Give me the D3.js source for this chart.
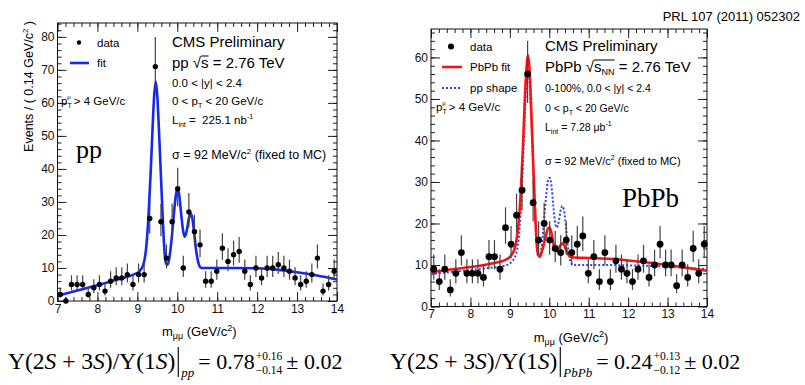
<!DOCTYPE html>
<html>
<head>
<meta charset="utf-8">
<script src="https://cdn.jsdelivr.net/npm/d3@7/dist/d3.min.js"></script>
<style>
  body { margin: 0; background: #fff; }
  svg { display: block; font-family: "Liberation Sans", Arial, sans-serif; }
  text { white-space: pre; }
</style>
</head>
<body>
<svg id="chart" width="805" height="385"></svg>
<script>
// binning of both histograms: 7 - 14 GeV/c^2, 0.14 GeV/c^2 per bin
const massMin = 7, massMax = 14, binWidth = 0.14;
const binCenters = d3.range(50).map(i => massMin + binWidth * (i + 0.5));

// events per bin
const ppCounts = [2, 0, 5, 5, 5, 2, 4, 5, 3, 6, 7, 7, 8, 5, 8, 8, 25, 71, 24, 13,
  24, 34, 10, 27, 21, 17, 6, 6, 9, 16, 12, 14, 15, 9, 5, 10, 7, 10, 10, 11,
  10, 9, 7, 5, 6, 8, 13, 3, 5, 9];
const pbpbCounts = [9, 6, 9, 4, 8, 13, 8, 8, 8, 7, 12, 12, 9, 19, 15, 22, 28, 56, 25, 16,
  20, 16, 14, 13, 16, 13, 15, 17, 8, 12, 6, 13, 6, 11, 9, 8, 6, 9, 11, 7,
  10, 15, 10, 10, 5, 10, 7, 14, 8, 15];

// fitted curves, [mass, events]
const ppFit = [[7.0, 1.6], [7.5, 3.2], [8.0, 4.8], [8.5, 6.5], [8.9, 8.0], [9.05, 9.0],
  [9.15, 11], [9.22, 16], [9.28, 26], [9.33, 38], [9.38, 52], [9.42, 62], [9.46, 66.5],
  [9.50, 62], [9.54, 52], [9.59, 38], [9.64, 24], [9.68, 15], [9.72, 11.3], [9.76, 11],
  [9.80, 13], [9.86, 19], [9.92, 27], [9.97, 32.5], [10.01, 34], [10.05, 32], [10.10, 26],
  [10.15, 21], [10.19, 19.5], [10.24, 21.5], [10.29, 25], [10.33, 26.5], [10.37, 25.5],
  [10.42, 21], [10.47, 15.5], [10.52, 12], [10.57, 10.3], [10.62, 10], [11.0, 10],
  [11.5, 10], [12.0, 9.9], [12.5, 9.5], [13.0, 8.7], [13.5, 7.7], [14.0, 6.5]];
const pbpbFit = [[7.0, 8.2], [7.5, 8.9], [8.0, 9.5], [8.5, 10.3], [8.9, 11.3], [9.05, 12.5],
  [9.15, 15], [9.22, 20], [9.28, 28], [9.33, 38], [9.38, 50], [9.42, 57], [9.46, 60.5],
  [9.50, 57], [9.54, 48], [9.59, 35], [9.64, 23], [9.68, 15.5], [9.72, 12.5], [9.76, 12],
  [9.82, 13.5], [9.90, 16.5], [9.97, 18.8], [10.01, 19], [10.06, 17.5], [10.12, 14.5],
  [10.18, 13.3], [10.24, 14], [10.30, 15], [10.35, 15.2], [10.41, 14], [10.48, 12.5],
  [10.55, 11.9], [10.62, 11.8], [11.0, 11.7], [11.5, 11.5], [12.0, 11.1], [12.5, 10.6],
  [13.0, 10.0], [13.5, 9.3], [14.0, 8.6]];
const ppShape = [[7.0, 7.8], [7.5, 8.3], [8.0, 8.8], [8.5, 9.3], [8.9, 9.9], [9.05, 10.8],
  [9.15, 12.5], [9.22, 16], [9.28, 24], [9.33, 34], [9.38, 46], [9.42, 54], [9.46, 57],
  [9.50, 54], [9.54, 46], [9.59, 34], [9.64, 22], [9.68, 14.5], [9.72, 12], [9.76, 12],
  [9.80, 14], [9.86, 20], [9.92, 26.5], [9.97, 30.5], [10.01, 31], [10.05, 29.5],
  [10.10, 24.5], [10.15, 20], [10.19, 19], [10.24, 20.5], [10.29, 23.3], [10.33, 24.2],
  [10.37, 23.3], [10.42, 19.5], [10.47, 14.5], [10.52, 11.5], [10.57, 10.2], [10.62, 10],
  [11.0, 10], [11.5, 10], [12.0, 9.9], [12.5, 9.8], [13.0, 9.6], [13.5, 9.3], [14.0, 9.0]];

const xTicks = [7, 8, 9, 10, 11, 12, 13, 14];
const ppYTicks = [0, 10, 20, 30, 40, 50, 60, 70, 80];
const pbpbYTicks = [0, 10, 20, 30, 40, 50, 60];

const svg = d3.select('#chart');

svg.append('text')
  .attr('x', 800).attr('y', 21)
  .attr('text-anchor', 'end')
  .style('font-size', '13px')
  .text('PRL 107 (2011) 052302');

svg.append('clipPath').attr('id', 'titleClip')
  .append('rect').attr('x', 399).attr('y', 0).attr('width', 400).attr('height', 385);

function drawPanel(p) {
  const x = d3.scaleLinear().domain([massMin, massMax]).range([p.left, p.right]);
  const y = d3.scaleLinear().domain([0, p.yMax]).range([p.bottom, p.top]);
  const g = svg.append('g');

  // ticks inside the frame, ROOT style
  const minorX = d3.range(massMin, massMax + 0.001, 0.2);
  const minorY = d3.range(0, p.yMax, 2);
  const addAxis = (axis, tr, labels) => {
    const a = g.append('g').attr('transform', tr).call(axis);
    a.select('.domain').remove();
    a.selectAll('line').attr('stroke', '#222');
    if (!labels) a.selectAll('text').remove();
    return a;
  };
  const bx = addAxis(d3.axisBottom(x).tickValues(xTicks).tickSize(-9).tickPadding(3).tickFormat(d3.format('d')),
    `translate(0,${p.bottom})`, true);
  bx.selectAll('text').style('font-size', '12px').attr('fill', '#111');
  addAxis(d3.axisBottom(x).tickValues(minorX).tickSize(-4), `translate(0,${p.bottom})`);
  addAxis(d3.axisTop(x).tickValues(xTicks).tickSize(-9), `translate(0,${p.top})`);
  addAxis(d3.axisTop(x).tickValues(minorX).tickSize(-4), `translate(0,${p.top})`);
  const ly = addAxis(d3.axisLeft(y).tickValues(p.yTicks).tickSize(-9).tickPadding(3),
    `translate(${p.left},0)`, true);
  ly.selectAll('text').style('font-size', '12px').attr('fill', '#111');
  addAxis(d3.axisLeft(y).tickValues(minorY).tickSize(-4), `translate(${p.left},0)`);
  addAxis(d3.axisRight(y).tickValues(p.yTicks).tickSize(-9), `translate(${p.right},0)`);
  addAxis(d3.axisRight(y).tickValues(minorY).tickSize(-4), `translate(${p.right},0)`);

  g.append('rect')
    .attr('x', p.left).attr('y', p.top)
    .attr('width', p.right - p.left).attr('height', p.bottom - p.top)
    .attr('fill', 'none').attr('stroke', '#111').attr('stroke-width', 1);

  // axis titles
  const yt = g.append('text')
    .attr('transform', `translate(${p.yTitleX},${p.top - 2}) rotate(-90)`)
    .attr('text-anchor', 'end')
    .style('font-size', '12.5px');
  yt.append('tspan').text('Events / ( 0.14 GeV/c');
  yt.append('tspan').attr('dy', -5).style('font-size', '8px').text('2');
  yt.append('tspan').attr('dy', 5).text(' )');
  if (p.clipTitle) yt.attr('clip-path', 'url(#titleClip)');

  const xt = g.append('text')
    .attr('x', (p.left + p.right) / 2 + 2).attr('y', p.bottom + 35)
    .attr('text-anchor', 'middle')
    .style('font-size', '13px');
  xt.append('tspan').text('m');
  xt.append('tspan').attr('dy', 3).style('font-size', '9px').text('μμ');
  xt.append('tspan').attr('dy', -3).text(' (GeV/c');
  xt.append('tspan').attr('dy', -5).style('font-size', '9px').text('2');
  xt.append('tspan').attr('dy', 5).text(')');

  // curves
  const line = d3.line().x(d => x(d[0])).y(d => y(d[1])).curve(d3.curveMonotoneX);
  p.curves.forEach(c => {
    g.append('path').datum(c.data)
      .attr('d', line)
      .attr('fill', 'none')
      .attr('stroke', c.color)
      .attr('stroke-width', c.width)
      .attr('stroke-dasharray', c.dash || null);
  });

  // data with poisson-like error bars
  const pts = binCenters.map((m, i) => ({ m, n: p.counts[i] }));
  g.selectAll('.err').data(pts).join('line')
    .attr('x1', d => x(d.m)).attr('x2', d => x(d.m))
    .attr('y1', d => y(Math.max(0, d.n + 0.5 - Math.sqrt(d.n + 0.25))))
    .attr('y2', d => y(d.n + 0.5 + Math.sqrt(d.n + 0.25) + (d.n === 0 ? 0.15 : 0)))
    .attr('stroke', '#444').attr('stroke-width', 1.2);
  g.selectAll('.pt').data(pts).join('circle')
    .attr('cx', d => x(d.m)).attr('cy', d => y(d.n))
    .attr('r', p.markerR).attr('fill', '#000');

  return { x, y, g };
}

drawPanel({
  left: 57.5, right: 337, top: 23, bottom: 301, yMax: 84.2, yTicks: ppYTicks,
  counts: ppCounts, markerR: 2.7, yTitleX: 33,
  curves: [{ data: ppFit, color: '#1428f0', width: 2.6 }]
});
drawPanel({
  left: 431, right: 707, top: 29, bottom: 306.5, yMax: 66.85, yTicks: pbpbYTicks,
  counts: pbpbCounts, markerR: 3.4, yTitleX: 410, clipTitle: true,
  curves: [
    { data: ppShape, color: '#3344ee', width: 2, dash: '2,2' },
    { data: pbpbFit, color: '#ff1010', width: 2.6 }
  ]
});

// ---- labels inside the frames ----
function label(x, y, size, parts, anchor) {
  const t = svg.append('text').attr('x', x).attr('y', y)
    .attr('text-anchor', anchor || 'start').style('font-size', size + 'px');
  parts.forEach(pt => {
    const s = t.append('tspan').text(pt.t);
    if (pt.dy) s.attr('dy', pt.dy);
    if (pt.dx) s.attr('dx', pt.dx);
    if (pt.fs) s.style('font-size', pt.fs + 'px');
    if (pt.font) s.style('font-family', pt.font);
  });
  return t;
}
function overline(t, from, to, off) {
  const n = t.node();
  const a = n.getStartPositionOfChar(from), b = n.getEndPositionOfChar(to);
  svg.append('line').attr('x1', a.x).attr('x2', b.x)
    .attr('y1', +t.attr('y') - off).attr('y2', +t.attr('y') - off)
    .attr('stroke', '#111').attr('stroke-width', 1.1);
}
// p_T with a muon index stacked above the T
const ptMu = [{ t: 'p' }, { t: 'T', dy: 3, fs: 7 }, { t: 'μ', dx: -4.5, dy: -9, fs: 6 },
  { t: ' > 4 GeV/c', dy: 6 }];

// left panel
svg.append('circle').attr('cx', 79).attr('cy', 42.5).attr('r', 2.2).attr('fill', '#000');
label(97, 47, 11.5, [{ t: 'data' }]);
svg.append('line').attr('x1', 70).attr('x2', 89).attr('y1', 63).attr('y2', 63)
  .attr('stroke', '#1428f0').attr('stroke-width', 2.6);
label(97, 67, 11.5, [{ t: 'fit' }]);
label(61, 105, 11.5, ptMu);
label(76, 158, 26, [{ t: 'pp', font: '"Liberation Serif", serif' }]);

label(172, 47, 15, [{ t: 'CMS Preliminary' }]);
const lsq = label(172, 68, 15, [{ t: 'pp √s = 2.76 TeV' }]);
overline(lsq, 4, 4, 12);
label(172, 87, 11.5, [{ t: '0.0 < |y| < 2.4' }]);
label(172, 105, 11.5, [{ t: '0 < p' }, { t: 'T', dy: 3, fs: 7 }, { t: ' < 20 GeV/c', dy: -3 }]);
label(172, 124, 11.5, [{ t: 'L' }, { t: 'int', dy: 3, fs: 7 }, { t: ' =  225.1 nb', dy: -3 },
  { t: '-1', dy: -5, fs: 7 }]);
label(172, 159, 12.5, [{ t: 'σ = 92 MeV/c' }, { t: '2', dy: -5, fs: 8 }, { t: ' (fixed to MC)', dy: 5 }]);

// right panel
svg.append('circle').attr('cx', 451).attr('cy', 46.5).attr('r', 3).attr('fill', '#000');
label(470, 51, 11.5, [{ t: 'data' }]);
svg.append('line').attr('x1', 442).attr('x2', 462).attr('y1', 67).attr('y2', 67)
  .attr('stroke', '#ff1010').attr('stroke-width', 2.6);
label(470, 71, 11.5, [{ t: 'PbPb fit' }]);
svg.append('line').attr('x1', 442).attr('x2', 462).attr('y1', 88).attr('y2', 88)
  .attr('stroke', '#3344ee').attr('stroke-width', 2).attr('stroke-dasharray', '2,2');
label(470, 92, 11.5, [{ t: 'pp shape' }]);
label(436, 111, 11.5, ptMu);

label(545, 51, 15, [{ t: 'CMS Preliminary' }]);
const rsq = label(545, 72, 15, [{ t: 'PbPb √s' }, { t: 'NN', dy: 3, fs: 9 }, { t: ' = 2.76 TeV', dy: -3 }]);
overline(rsq, 6, 8, 12);
label(545, 92, 10.5, [{ t: '0-100%, 0.0 < |y| < 2.4' }]);
label(545, 112, 10.5, [{ t: '0 < p' }, { t: 'T', dy: 3, fs: 7 }, { t: ' < 20 GeV/c', dy: -3 }]);
label(545, 131, 10.5, [{ t: 'L' }, { t: 'int', dy: 3, fs: 7 }, { t: ' = 7.28 μb', dy: -3 },
  { t: '-1', dy: -5, fs: 7 }]);
label(545, 165, 11, [{ t: 'σ = 92 MeV/c' }, { t: '2', dy: -5, fs: 7 }, { t: ' (fixed to MC)', dy: 5 }]);
label(622, 207, 27, [{ t: 'PbPb', font: '"Liberation Serif", serif' }]);

// ---- ratio formulas under the panels ----
function formula(x0, y0, sys, value, up, down) {
  const serif = '"Liberation Serif", "Times New Roman", serif';
  let x = x0;
  const main = svg.append('text').attr('x', x).attr('y', y0)
    .style('font-family', serif).style('font-size', '23.5px');
  [['Υ(2'], ['S', 1], [' + 3'], ['S', 1], [')/Υ(1'], ['S', 1], [')']].forEach(([t, it]) => {
    const s = main.append('tspan').text(t);
    if (it) s.style('font-style', 'italic');
  });
  x += main.node().getComputedTextLength() + 3;
  svg.append('line').attr('x1', x).attr('x2', x).attr('y1', y0 - 22).attr('y2', y0 + 8)
    .attr('stroke', '#111').attr('stroke-width', 1.2);
  x += 3;
  const sub = svg.append('text').attr('x', x).attr('y', y0 + 8)
    .style('font-family', serif).style('font-size', '13px').style('font-style', 'italic')
    .text(sys);
  x += sub.node().getComputedTextLength() + 4;
  const val = svg.append('text').attr('x', x).attr('y', y0)
    .style('font-family', serif).style('font-size', '22px').text('= ' + value);
  x += val.node().getComputedTextLength() + 1;
  const a = svg.append('text').attr('x', x).attr('y', y0 - 9)
    .style('font-family', serif).style('font-size', '11.5px').text(up);
  const b = svg.append('text').attr('x', x).attr('y', y0 + 5)
    .style('font-family', serif).style('font-size', '11.5px').text(down);
  x += Math.max(a.node().getComputedTextLength(), b.node().getComputedTextLength()) + 4;
  svg.append('text').attr('x', x).attr('y', y0)
    .style('font-family', serif).style('font-size', '22px').text('± 0.02');
}
formula(8, 369, 'pp', '0.78', '+0.16', '−0.14');
formula(390, 369, 'PbPb', '0.24', '+0.13', '−0.12');
</script>
</body>
</html>
